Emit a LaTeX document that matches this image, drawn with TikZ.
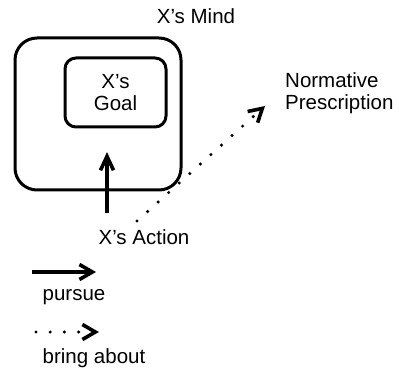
\documentclass[tikz,border=0pt]{standalone}
\usepackage{fontspec}
\setmainfont{Liberation Sans}
\usetikzlibrary{arrows.meta}
\begin{document}
\begin{tikzpicture}[x=1pt,y=-1pt,
  lbl/.style={font=\fontsize{20.5}{22}\selectfont, inner sep=0pt},
  frame/.style={draw, line width=3pt, rounded corners=#1},
  pursue/.style={line width=3.2pt, -{Straight Barb[length=13pt,width=15pt,line width=3.6pt]}},
  bringabout/.style={line width=3.4pt, line cap=round, dash pattern=on 0pt off 14.2pt,
    -{Straight Barb[length=13pt,width=15pt,line width=3.6pt]}}]
\useasboundingbox (0,0) rectangle (399,374);

% the mind, with the goal inside it
\node[frame=22pt, minimum width=166pt, minimum height=152pt] (mind) at (98,114) {};
\node[lbl] (mindlbl) at (196,16) {X’s Mind};
\node[frame=11pt, minimum width=101pt, minimum height=69pt, lbl, align=center] (goal) at (115.5,92.5) {X’s\\Goal};

% the action and the prescription
\node[lbl] (action) at (144,237) {X’s Action};
\node[lbl, anchor=west, align=left] (norm) at (285,93) {Normative\\Prescription};

\coordinate (pursuefrom) at (107,213);
\coordinate (pursueto) at (107,152);
\draw[pursue, -{Straight Barb[length=14pt,width=13pt,line width=3.6pt]}] (pursuefrom) -- (pursueto);

\coordinate (bringfrom) at (137,221);
\coordinate (bringto) at (265,106);
\draw[bringabout] (bringfrom) -- (bringto);

% legend
\coordinate (l1a) at (32,272);
\coordinate (l1b) at (96,272);
\draw[pursue] (l1a) -- (l1b);
\node[lbl] (lpursue) at (74,297) {pursue};

\coordinate (l2a) at (36,332);
\coordinate (l2b) at (99,332);
\draw[bringabout] (l2a) -- (l2b);
\node[lbl] (lbring) at (94,358) {bring about};
\end{tikzpicture}
\end{document}
